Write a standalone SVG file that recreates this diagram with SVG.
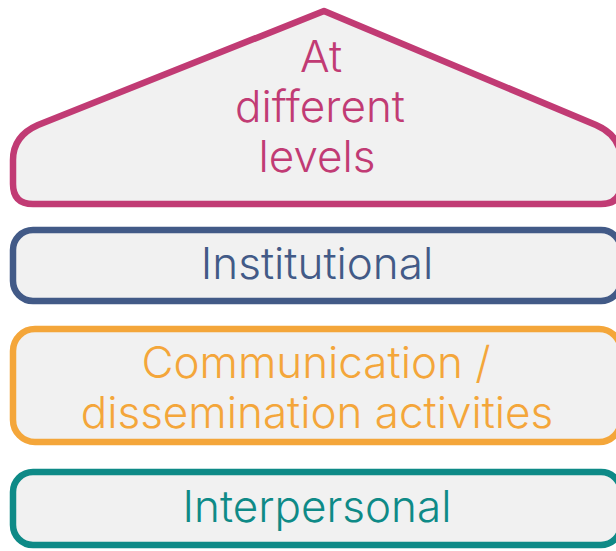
<svg xmlns="http://www.w3.org/2000/svg" width="616" height="551" viewBox="0 0 616 551">
  <style>
    .shape { fill: #F1F1F1; stroke-width: 6.5; stroke-linejoin: round; }
    .label { font-family: Inter, "Liberation Sans", sans-serif; font-weight: 300; font-size: 44px; text-anchor: middle; }
  </style>
  <rect width="616" height="551" fill="#FFFFFF"/>
  <g id="levels">
    <path class="shape" stroke="#C13B74" d="M324,11 L38,125 Q13,136 13,160 L13,184 Q13,204 33,204 L601,204 Q621,204 621,184 L621,160 Q621,136 596,125 Z"/>
    <text class="label" fill="#C13B74" x="321" y="72">At</text>
    <text class="label" fill="#C13B74" x="320" y="122">different</text>
    <text class="label" fill="#C13B74" x="317" y="172">levels</text>
  </g>
  <g id="institutional">
    <rect class="shape" stroke="#425A87" x="13" y="230" width="608" height="71" rx="20"/>
    <text class="label" fill="#425A87" x="317" y="279">Institutional</text>
  </g>
  <g id="communication">
    <rect class="shape" stroke="#F4A63A" x="13" y="329" width="608" height="113" rx="22"/>
    <text class="label" fill="#F4A63A" x="316" y="378">Communication /</text>
    <text class="label" fill="#F4A63A" x="317" y="428">dissemination activities</text>
  </g>
  <g id="interpersonal">
    <rect class="shape" stroke="#0E8A87" x="13" y="472" width="608" height="73" rx="20"/>
    <text class="label" fill="#0E8A87" x="317" y="522">Interpersonal</text>
  </g>
  <g id="connectors"/>
</svg>
